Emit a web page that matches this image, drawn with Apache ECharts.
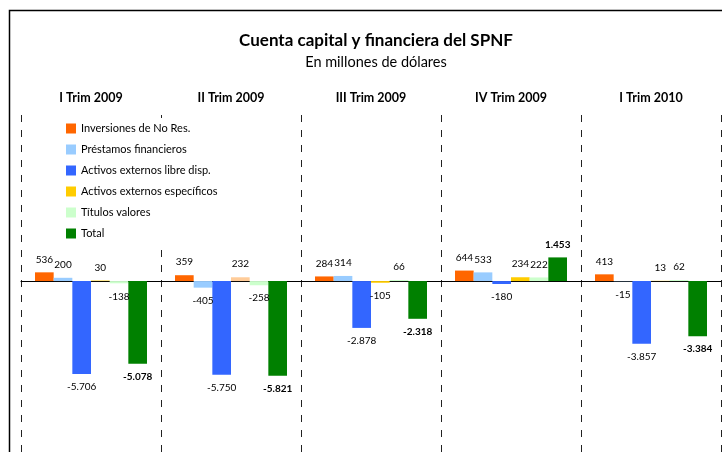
<!DOCTYPE html>
<html>
<head>
<meta charset="utf-8">
<title>Cuenta capital y financiera del SPNF</title>
<script src="https://cdn.jsdelivr.net/npm/echarts@6/dist/echarts.min.js"></script>
<style>
  html, body { margin: 0; padding: 0; background: #fff; }
  #chart { width: 722px; height: 452px; }
</style>
</head>
<body>
<div id="chart"></div>
<script>
'use strict';

//trimestres
var categories = ['I Trim 2009', 'II Trim 2009', 'III Trim 2009', 'IV Trim 2009', 'I Trim 2010'];

//series (millones de dólares)
var inversiones = [536, 359, 284, 644, 413];
var prestamos = [200, -405, 314, 533, -15];
var activosLibre = [-5706, -5750, -2878, -180, -3857];
var activosEspecificos = [30, 232, -105, 234, 13];
var titulos = [-138, -258, 66, 222, 62];
var total = [-5078, -5821, -2318, 1453, -3384];

var seriesNames = [
  'Inversiones de No Res.',
  'Préstamos financieros',
  'Activos externos libre disp.',
  'Activos externos específicos',
  'Títulos valores',
  'Total'
];
var seriesValues = [inversiones, prestamos, activosLibre, activosEspecificos, titulos, total];
var seriesColors = ['#FF6600', '#99CCFF', '#3366FF', '#FFCC00', '#CCFFCC', '#008000'];

var FONT = 'Lato, "DejaVu Sans", sans-serif';

//formato 1.453 / -5.706
function fmt(v) {
  var s = String(Math.abs(v)).replace(/\B(?=(\d{3})+(?!\d))/g, '.');
  return (v < 0 ? '-' : '') + s;
}

//armar datos con etiqueta arriba o abajo segun signo
function buildData(values, si) {
  return values.map(function (v, i) {
    var item = {
      value: v,
      label: { position: v < 0 ? 'bottom' : 'top' }
    };
    // en el II Trim 2009 la barra de activos especificos es color durazno
    if (si === 3 && i === 1) {
      item.itemStyle = { color: '#FFCC99' };
    }
    return item;
  });
}

var chart = echarts.init(document.getElementById('chart'));

var series = seriesNames.map(function (name, si) {
  return {
    name: name,
    type: 'bar',
    xAxisIndex: 0,
    barGap: '0%',
    barCategoryGap: '20%',
    itemStyle: { color: seriesColors[si] },
    label: {
      show: true,
      distance: 8,
      fontFamily: FONT,
      fontSize: 10,
      color: '#000',
      fontWeight: si === 5 ? 'bold' : 'normal',
      formatter: function (p) { return fmt(p.value); }
    },
    data: buildData(seriesValues[si], si)
  };
});

var option = {
  backgroundColor: '#fff',
  animation: false,
  title: {
    text: 'Cuenta capital y financiera del SPNF',
    subtext: 'En millones de dólares',
    left: 371,
    textAlign: 'center',
    top: 27,
    itemGap: 6,
    textStyle: { fontFamily: FONT, fontSize: 17, fontWeight: 'bold', color: '#000' },
    subtextStyle: { fontFamily: FONT, fontSize: 14.5, color: '#000' }
  },
  legend: {
    orient: 'vertical',
    left: 61,
    top: 118,
    padding: [5, 5, 5, 5],
    backgroundColor: '#fff',
    itemWidth: 10,
    itemHeight: 10,
    itemGap: 10,
    icon: 'rect',
    textStyle: { fontFamily: FONT, fontSize: 11, color: '#000' },
    data: seriesNames
  },
  grid: { left: 21, right: 1, top: 115, bottom: 0, containLabel: false },
  xAxis: [{
    type: 'category',
    data: categories,
    axisLine: { onZero: true, lineStyle: { color: '#000', width: 1 } },
    axisTick: { show: false },
    axisLabel: { show: false },
    splitLine: { show: true, lineStyle: { color: '#222', width: 1, type: [7, 8] } }
  }, {
    type: 'category',
    data: categories,
    position: 'top',
    axisLine: { show: false },
    axisTick: { show: false },
    axisLabel: { margin: 11, fontFamily: FONT, fontSize: 12.5, fontWeight: 'bold', color: '#000' },
    splitLine: { show: false }
  }],
  yAxis: {
    type: 'value',
    min: -10500,
    max: 10200,
    show: false,
    splitLine: { show: false }
  },
  graphic: [{
    type: 'rect',
    silent: true,
    shape: { x: 9.5, y: 10.5, width: 800, height: 600 },
    style: { fill: 'none', stroke: '#000', lineWidth: 1.5 }
  }],
  series: series
};

chart.setOption(option);
</script>
</body>
</html>
